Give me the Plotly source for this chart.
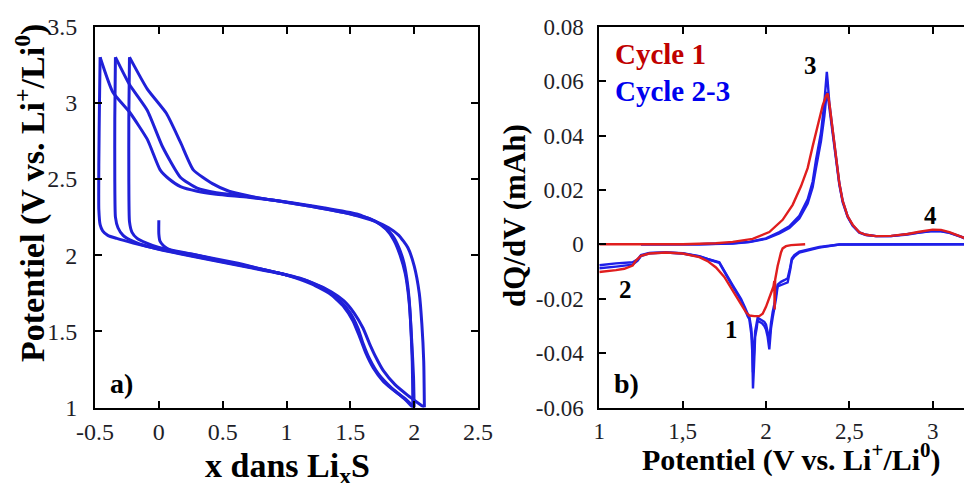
import plotly.graph_objects as go

# ---------- panel a) galvanostatic curves (x in LixS, V) ----------
d1_x = [0.0, 0.0, 0.01, 0.04, 0.1, 0.3, 0.5, 0.8, 1.0, 1.2, 1.35, 1.45, 1.52, 1.57, 1.62, 1.68, 1.76, 1.86, 1.94, 2.0]
d1_v = [2.23, 2.14, 2.09, 2.06, 2.03, 2.0, 1.96, 1.91, 1.87, 1.81, 1.74, 1.66, 1.57, 1.47, 1.36, 1.26, 1.17, 1.1, 1.05, 1.0]
c1_x = [2.0, 1.995, 1.98, 1.96, 1.93, 1.89, 1.84, 1.78, 1.7, 1.55, 1.3, 1.0, 0.7, 0.45, 0.3, 0.17, 0.08, 0.01, -0.09, -0.23, -0.36, -0.46]
c1_v = [1.0, 1.2, 1.45, 1.7, 1.88, 2.0, 2.1, 2.17, 2.22, 2.27, 2.31, 2.35, 2.38, 2.4, 2.42, 2.45, 2.5, 2.56, 2.76, 2.94, 3.07, 3.3]
d2_x = [-0.46, -0.465, -0.47, -0.47, -0.46, -0.44, -0.4, -0.33, -0.2, 0.0, 0.3, 0.6, 0.9, 1.1, 1.3, 1.42, 1.5, 1.56, 1.6, 1.65, 1.72, 1.82, 1.92, 1.99]
d2_v = [3.3, 3.0, 2.6, 2.3, 2.2, 2.16, 2.13, 2.11, 2.08, 2.04, 1.99, 1.94, 1.89, 1.85, 1.78, 1.7, 1.62, 1.52, 1.42, 1.32, 1.22, 1.13, 1.06, 1.0]
c2_x = [1.99, 1.985, 1.97, 1.95, 1.92, 1.88, 1.83, 1.76, 1.65, 1.45, 1.2, 0.9, 0.65, 0.45, 0.3, 0.17, 0.03, -0.09, -0.23, -0.34]
c2_v = [1.0, 1.3, 1.6, 1.8, 1.95, 2.05, 2.13, 2.19, 2.24, 2.28, 2.32, 2.36, 2.39, 2.41, 2.44, 2.51, 2.71, 2.95, 3.12, 3.3]
d3_x = [-0.34, -0.345, -0.345, -0.34, -0.32, -0.28, -0.2, -0.1, 0.1, 0.4, 0.7, 1.0, 1.2, 1.35, 1.45, 1.53, 1.6, 1.65, 1.7, 1.76, 1.85, 1.95, 2.03, 2.08]
d3_v = [3.3, 2.9, 2.5, 2.25, 2.18, 2.13, 2.09, 2.06, 2.02, 1.97, 1.92, 1.87, 1.82, 1.76, 1.7, 1.62, 1.52, 1.42, 1.33, 1.24, 1.15, 1.08, 1.03, 1.0]
c3_x = [2.08, 2.075, 2.06, 2.04, 2.0, 1.95, 1.88, 1.8, 1.7, 1.5, 1.2, 0.9, 0.7, 0.55, 0.42, 0.27, 0.17, 0.06, -0.09, -0.23]
c3_v = [1.0, 1.3, 1.55, 1.75, 1.93, 2.05, 2.13, 2.18, 2.22, 2.27, 2.32, 2.36, 2.39, 2.42, 2.47, 2.56, 2.74, 2.93, 3.09, 3.3]
d4_x = [-0.23, -0.235, -0.235, -0.23, -0.21, -0.17, -0.1, 0.0, 0.3, 0.6, 0.85, 1.0]
d4_v = [3.3, 2.9, 2.5, 2.22, 2.15, 2.11, 2.08, 2.05, 2.0, 1.95, 1.9, 1.87]

a_xticks = [-0.5, 0, 0.5, 1, 1.5, 2, 2.5]
a_xlabels = ["-0.5", "0", "0.5", "1", "1.5", "2", "2.5"]
a_yticks = [1, 1.5, 2, 2.5, 3, 3.5]
a_ylabels = ["1", "1.5", "2", "2.5", "3", "3.5"]

# ---------- panel b) dQ/dV ----------
r_ch_v = [1.0, 1.5, 1.7, 1.8, 1.92, 2.02, 2.1, 2.16, 2.21, 2.25, 2.28, 2.31, 2.34, 2.36, 2.37, 2.38, 2.40, 2.42, 2.44, 2.46, 2.49, 2.52, 2.56, 2.6, 2.66, 2.75, 2.85, 2.92, 3.0, 3.05, 3.1, 3.17, 3.236]
r_ch_q = [0.0, 0.0, 0.0004, 0.0009, 0.002, 0.0045, 0.009, 0.0145, 0.0213, 0.028, 0.036, 0.044, 0.051, 0.0545, 0.0555, 0.052, 0.042, 0.031, 0.0225, 0.016, 0.0103, 0.0072, 0.0044, 0.0035, 0.003, 0.0031, 0.0038, 0.0046, 0.0054, 0.0053, 0.0045, 0.0028, 0.0012]
r_dis_v = [2.235, 2.2, 2.15, 2.12, 2.1, 2.09, 2.07, 2.055, 2.052, 2.05, 2.045, 2.03, 2.0, 1.98, 1.96, 1.93, 1.9, 1.88, 1.85, 1.8, 1.75, 1.7, 1.65, 1.6, 1.5, 1.4, 1.3, 1.25, 1.22, 1.2, 1.15, 1.1, 1.05, 1.0]
r_dis_q = [0.0, -0.0001, -0.0003, -0.0007, -0.0015, -0.003, -0.008, -0.013, -0.024, -0.0135, -0.0155, -0.018, -0.023, -0.0255, -0.0264, -0.0264, -0.0262, -0.025, -0.022, -0.0165, -0.012, -0.0085, -0.0062, -0.0047, -0.0034, -0.003, -0.0034, -0.0042, -0.006, -0.0078, -0.009, -0.0095, -0.0098, -0.0102]

b_ch_v = [1.25, 1.6, 1.8, 1.9, 2.0, 2.08, 2.14, 2.2, 2.25, 2.28, 2.30, 2.33, 2.35, 2.36, 2.365, 2.37, 2.38, 2.40, 2.42, 2.44, 2.46, 2.49, 2.52, 2.56, 2.6, 2.66, 2.75, 2.85, 2.92, 3.0, 3.05, 3.1, 3.17, 3.236]
b2_ch_q = [0.0, 0.0, 0.0004, 0.0009, 0.0022, 0.0045, 0.0066, 0.0105, 0.0165, 0.023, 0.031, 0.041, 0.052, 0.059, 0.0634, 0.06, 0.052, 0.042, 0.032, 0.0225, 0.016, 0.0103, 0.007, 0.0044, 0.0035, 0.003, 0.003, 0.0037, 0.0044, 0.005, 0.0049, 0.0043, 0.0028, 0.0012]
b3_ch_q = [0.0, 0.0, 0.0003, 0.0008, 0.002, 0.004, 0.006, 0.0095, 0.015, 0.021, 0.028, 0.038, 0.047, 0.053, 0.056, 0.055, 0.05, 0.041, 0.031, 0.022, 0.0155, 0.0100, 0.0068, 0.0043, 0.0034, 0.003, 0.003, 0.0036, 0.0043, 0.0049, 0.0048, 0.0042, 0.0027, 0.0011]
b_dis_v = [3.236, 2.6, 2.44, 2.32, 2.2, 2.17, 2.155, 2.145, 2.13, 2.11, 2.09, 2.07, 2.06, 2.05, 2.04, 2.03, 2.02, 2.01, 2.0, 1.99, 1.976, 1.96, 1.95, 1.944, 1.935, 1.928, 1.922, 1.918, 1.912, 1.9, 1.89, 1.874, 1.85, 1.8, 1.76, 1.72, 1.65, 1.6, 1.5, 1.4, 1.3, 1.25, 1.23, 1.2, 1.1, 1.0]
b2_dis_q = [0.0, 0.0, -0.0001, -0.0012, -0.003, -0.0045, -0.0058, -0.0095, -0.014, -0.0145, -0.015, -0.0155, -0.02, -0.023, -0.027, -0.031, -0.0386, -0.034, -0.0313, -0.03, -0.029, -0.0285, -0.028, -0.031, -0.034, -0.045, -0.053, -0.04, -0.033, -0.0275, -0.0264, -0.024, -0.0205, -0.0155, -0.011, -0.0068, -0.0055, -0.0045, -0.0034, -0.003, -0.0032, -0.004, -0.0055, -0.0066, -0.007, -0.0077]
b3_dis_q = [0.0, 0.0, -0.0001, -0.001, -0.0027, -0.004, -0.0052, -0.0085, -0.0125, -0.0132, -0.0138, -0.0148, -0.019, -0.022, -0.025, -0.029, -0.035, -0.032, -0.0295, -0.0285, -0.028, -0.0275, -0.027, -0.029, -0.032, -0.04, -0.047, -0.036, -0.031, -0.0265, -0.0255, -0.0232, -0.02, -0.015, -0.0107, -0.0066, -0.0054, -0.0044, -0.0033, -0.003, -0.0033, -0.0043, -0.006, -0.0075, -0.0082, -0.0088]

b_xticks = [1, 1.5, 2, 2.5, 3]
b_xlabels = ["1", "1,5", "2", "2,5", "3"]
b_yticks = [-0.06, -0.04, -0.02, 0, 0.02, 0.04, 0.06, 0.08]
b_ylabels = ["-0.06", "-0.04", "-0.02", "0", "0.02", "0.04", "0.06", "0.08"]

BLUE_A = "#2020d8"
BLUE_B = "#1f1fe8"
RED = "#e01e1e"
SERIF = "Liberation Serif"
TICKC = "#1e1e28"
W, H = 972, 483
OFF = 8  # page body margin offset (px)


def fx(px):
    return (px - OFF) / W


def fy(py):
    return 1 - (py - OFF) / H


fig = go.Figure()

for xs, vs in [(d1_x, d1_v), (c1_x, c1_v), (d2_x, d2_v), (c2_x, c2_v),
               (d3_x, d3_v), (c3_x, c3_v), (d4_x, d4_v)]:
    fig.add_trace(go.Scatter(x=xs, y=vs, mode="lines", xaxis="x", yaxis="y",
                             line=dict(color=BLUE_A, width=3, shape="spline", smoothing=0.5),
                             showlegend=False, hoverinfo="skip"))

for xs, qs in [(b_dis_v, b2_dis_q), (b_dis_v, b3_dis_q), (b_ch_v, b2_ch_q), (b_ch_v, b3_ch_q)]:
    fig.add_trace(go.Scatter(x=xs, y=qs, mode="lines", xaxis="x2", yaxis="y2",
                             line=dict(color=BLUE_B, width=2.4), showlegend=False,
                             hoverinfo="skip"))
for xs, qs in [(r_ch_v, r_ch_q), (r_dis_v, r_dis_q)]:
    fig.add_trace(go.Scatter(x=xs, y=qs, mode="lines", xaxis="x2", yaxis="y2",
                             line=dict(color=RED, width=2.4), showlegend=False,
                             hoverinfo="skip"))

ydom = [fy(407.5), fy(26.7)]


def axis(size, standoff, **kw):
    d = dict(showgrid=False, zeroline=False, showline=True, linecolor="black",
             linewidth=2, ticks="inside", ticklen=7, tickwidth=1.5, tickcolor="black",
             ticklabelstandoff=standoff, automargin=False,
             tickfont=dict(family=SERIF, size=size, color=TICKC))
    d.update(kw)
    return d


fig.update_layout(
    template="none",
    width=W, height=H,
    margin=dict(l=0, r=0, t=0, b=0, pad=0, autoexpand=False),
    paper_bgcolor="white", plot_bgcolor="white",
    showlegend=False,
    font=dict(family=SERIF, size=22, color="black"),
    xaxis=axis(24, 2, domain=[fx(95), fx(478)], range=[-0.5, 2.5], anchor="y",
               tickvals=a_xticks, ticktext=a_xlabels, mirror="ticks"),
    yaxis=axis(24, 11, domain=ydom, range=[1, 3.5], anchor="x",
               tickvals=a_yticks, ticktext=a_ylabels, mirror="ticks"),
    xaxis2=axis(23, 2, domain=[fx(599.3), fx(972)], range=[1, 3.236], anchor="y2",
                tickvals=b_xticks, ticktext=b_xlabels, mirror="ticks"),
    yaxis2=axis(23, 9, domain=ydom, range=[-0.06, 0.08], anchor="x2",
                tickvals=b_yticks, ticktext=b_ylabels, mirror=False),
)


def ann(text, px, py, size=24, color="black", angle=0, bold=True, xanchor="center"):
    t = f"<b>{text}</b>" if bold else text
    fig.add_annotation(text=t, x=fx(px), y=fy(py), xref="paper", yref="paper",
                       showarrow=False, textangle=angle, xanchor=xanchor, yanchor="middle",
                       font=dict(family=SERIF, size=size, color=color))


# axis titles
ann("Potentiel (V vs. Li<sup>+</sup>/Li<sup>0</sup>)", 30, 193, size=34, angle=-90)
ann("x dans Li<sub>x</sub>S", 287, 468, size=34)
ann("Potentiel (V vs. Li<sup>+</sup>/Li<sup>0</sup>)", 791, 457, size=30)
ann("dQ/dV (mAh)", 514, 216, size=31, angle=-90)

# panel labels / legend texts
ann("a)", 121, 383, size=28)
ann("b)", 626, 383, size=28)
ann("Cycle 1", 613, 54, size=29, color="#c00000", xanchor="left")
ann("Cycle 2-3", 613, 91, size=29, color="#0000ee", xanchor="left")
ann("3", 810, 65, size=25)
ann("4", 930, 215, size=25)
ann("2", 625, 289, size=25)
ann("1", 731, 329, size=25)

fig.write_html("out.html")
